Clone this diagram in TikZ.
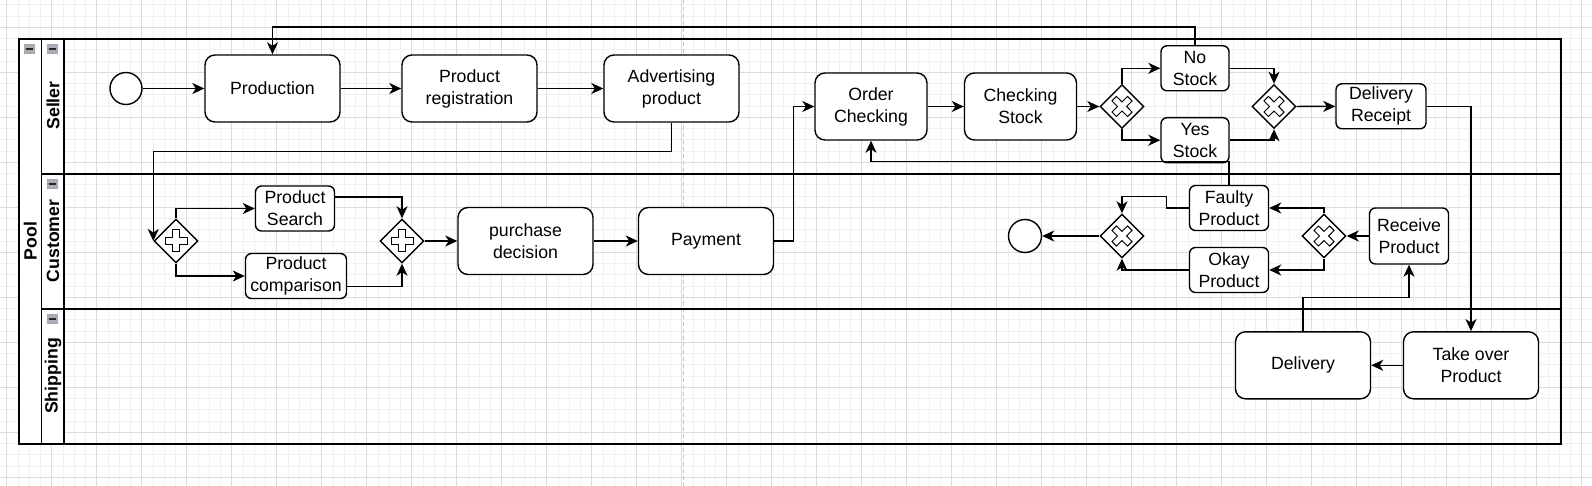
\documentclass[tikz,border=0pt]{standalone}
\usepackage{fontspec}
\setmainfont{Liberation Sans}
\usepackage{tikz}
\usetikzlibrary{arrows.meta,positioning,shapes.geometric}
\definecolor{gridminor}{HTML}{F0F0F0}
\definecolor{gridmajor}{HTML}{DCDCDC}
\definecolor{iconfill}{HTML}{A9AEB8}
% hollow plus for parallel gateways
\newcommand{\pluscross}{\draw[line width=1pt,shift={(path picture bounding box.center)}]
  (3.2pt,11pt) -- (3.2pt,3.2pt) -- (11pt,3.2pt) -- (11pt,-3.2pt) -- (3.2pt,-3.2pt) -- (3.2pt,-11pt)
  -- (-3.2pt,-11pt) -- (-3.2pt,-3.2pt) -- (-11pt,-3.2pt) -- (-11pt,3.2pt) -- (-3.2pt,3.2pt) -- (-3.2pt,11pt) -- cycle;}
% hollow x for exclusive gateways
\newcommand{\xcross}{\draw[line width=1pt,shift={(path picture bounding box.center)}]
  (-5.52pt,10.04pt) -- (0pt,4.53pt) -- (5.52pt,10.04pt) -- (10.04pt,5.52pt) -- (4.53pt,0pt) -- (10.04pt,-5.52pt)
  -- (5.52pt,-10.04pt) -- (0pt,-4.53pt) -- (-5.52pt,-10.04pt) -- (-10.04pt,-5.52pt) -- (-4.53pt,0pt) -- (-10.04pt,5.52pt) -- cycle;}

\begin{document}
\begin{tikzpicture}[
  x=1pt,y=-1pt,
  font=\fontsize{17.7}{22}\selectfont,
  task/.style={draw,rounded corners=10pt,fill=white,align=center,line width=1.4pt,minimum width=135pt,minimum height=67pt,inner sep=1pt},
  small/.style={task,rounded corners=6pt,minimum width=79pt,minimum height=45pt},
  event/.style={draw,circle,fill=white,line width=1.4pt,minimum size=32pt,inner sep=0pt},
  gate/.style={draw,diamond,fill=white,line width=1.4pt,minimum width=44pt,minimum height=44pt,inner sep=0pt},
  pargate/.style={gate,path picture={\pluscross}},
  xgate/.style={gate,path picture={\xcross}},
  lane/.style={line width=1.4pt},
  lanelabel/.style={rotate=90,font=\fontsize{17.7}{22}\selectfont\bfseries},
  arrow/.style={-{Stealth[length=12pt,width=11pt,inset=3.5pt]},line width=1.4pt}
]
\useasboundingbox (0,0) rectangle (1592,486);
% grid
\foreach \gx in {0,...,141} \draw[gridminor,line width=0.8pt] ({6.7+11.25*\gx},0) -- ({6.7+11.25*\gx},486);
\foreach \gy in {0,...,42} \draw[gridminor,line width=0.8pt] (0,{4.8+11.25*\gy}) -- (1592,{4.8+11.25*\gy});
\foreach \gx in {0,...,35} \draw[gridmajor,line width=0.9pt] ({6.7+45*\gx},0) -- ({6.7+45*\gx},486);
\foreach \gy in {0,...,10} \draw[gridmajor,line width=0.9pt] (0,{27.3+45*\gy}) -- (1592,{27.3+45*\gy});
\draw[gray!45,line width=1pt,dash pattern=on 4pt off 3pt] (683.3,0) -- (683.3,486);
% pool and lanes
\draw[lane,fill=white] (19,39) rectangle (64,444);
\draw[lane] (41.7,39) -- (41.7,444);
\draw[lane] (64,39) rectangle (1561,444);
\draw[lane] (41.7,174) -- (1561,174);
\draw[lane] (41.7,309) -- (1561,309);
\foreach \ix/\iy in {29/49,52/49,52/184,52/319} {
  \draw[fill=iconfill,draw=gray!70,line width=0.6pt] (\ix-5,\iy-4.5) rectangle (\ix+5,\iy+4.5);
  \draw[gray!30!black,line width=1.4pt] (\ix-3.5,\iy) -- (\ix+3.5,\iy);
}
\node[lanelabel] (pool) at (30.3,241) {Pool};
\node[lanelabel] (seller) at (53,105.5) {Seller};
\node[lanelabel] (customer) at (53,241) {Customer};
\node[lanelabel] (shipping) at (53,376) {Shipping};
% seller
\node[event] (start) at (126,88.5) {};
\node[task] (prod) at (272.5,88.5) {Production};
\node[task] (reg) at (469.5,88.5) {Product\\registration};
\node[task] (adv) at (671.5,88.5) {Advertising\\product};
\node[task,minimum width=112pt] (order) at (871,106.5) {Order\\Checking};
\node[task,minimum width=112pt] (check) at (1020.5,106.5) {Checking\\Stock};
\node[xgate] (stock) at (1122,106.5) {};
\node[small,minimum width=68pt] (nostock) at (1195,68.3) {No\\Stock};
\node[small,minimum width=68pt] (yesstock) at (1195,140.2) {Yes\\Stock};
\node[xgate] (stockjoin) at (1274,106.5) {};
\node[small,minimum width=90pt] (receipt) at (1381,106.3) {Delivery\\Receipt};
% customer
\node[pargate] (split) at (176,241) {};
\node[small] (search) at (295,208.5) {Product\\Search};
\node[small,minimum width=101pt] (compare) at (296,276) {Product\\comparison};
\node[pargate] (join) at (402,241) {};
\node[task] (decide) at (525.5,241) {purchase\\decision};
\node[task] (pay) at (706,241) {Payment};
\node[small,minimum height=56pt] (receive) at (1409,236) {Receive\\Product};
\node[xgate] (quality) at (1324,236) {};
\node[small] (faulty) at (1229,208) {Faulty\\Product};
\node[small] (okay) at (1229,270) {Okay\\Product};
\node[xgate] (merge) at (1122,236) {};
\node[event,minimum size=33pt] (end) at (1025,236) {};
% shipping
\node[task] (takeover) at (1471,365.3) {Take over\\Product};
\node[task] (deliv) at (1303,365.3) {Delivery};
% flows
\draw[arrow] (start) -- (prod);
\draw[arrow] (prod) -- (reg);
\draw[arrow] (reg) -- (adv);
\draw[arrow] (adv.south) -- ++(0,29) -| (split.west);
\draw[arrow] (split.north) |- (search.west);
\draw[arrow] (split.south) |- (compare.west);
\draw[arrow] ([yshift=11.5pt]search.east) -| (join.north);
\draw[arrow] ([yshift=-10.5pt]compare.east) -| (join.south);
\draw[arrow] (join) -- (decide);
\draw[arrow] (decide) -- (pay);
\draw[arrow] (pay.east) -- ++(19.5,0) |- (order.west);
\draw[arrow] (order) -- (check);
\draw[arrow] (check) -- (stock);
\draw[arrow] (stock.north) |- (nostock.west);
\draw[arrow] (stock.south) |- (yesstock.west);
\draw[arrow] (nostock.east) -| (stockjoin.north);
\draw[arrow] (yesstock.east) -| (stockjoin.south);
\draw[arrow] (stockjoin) -- (receipt);
\draw[arrow] (receipt.east) -| (takeover.north);
\draw[arrow] (takeover) -- (deliv);
\draw[arrow] (deliv.north) -- ++(0,-33.5) -| (receive.south);
\draw[arrow] (receive) -- (quality);
\draw[arrow] (quality.north) |- (faulty.east);
\draw[arrow] (quality.south) |- (okay.east);
\draw[arrow] (faulty.west) -- ++(-22.6,0) -- ++(0,-11.3) -| (merge.north);
\draw[arrow] (okay.west) -| (merge.south);
\draw[arrow] (merge) -- (end);
\draw[arrow] (faulty.north) -- ++(0,-23) -| (order.south);
\draw[arrow] (nostock.north) -- ++(0,-18) -| (prod.north);
\end{tikzpicture}
\end{document}
